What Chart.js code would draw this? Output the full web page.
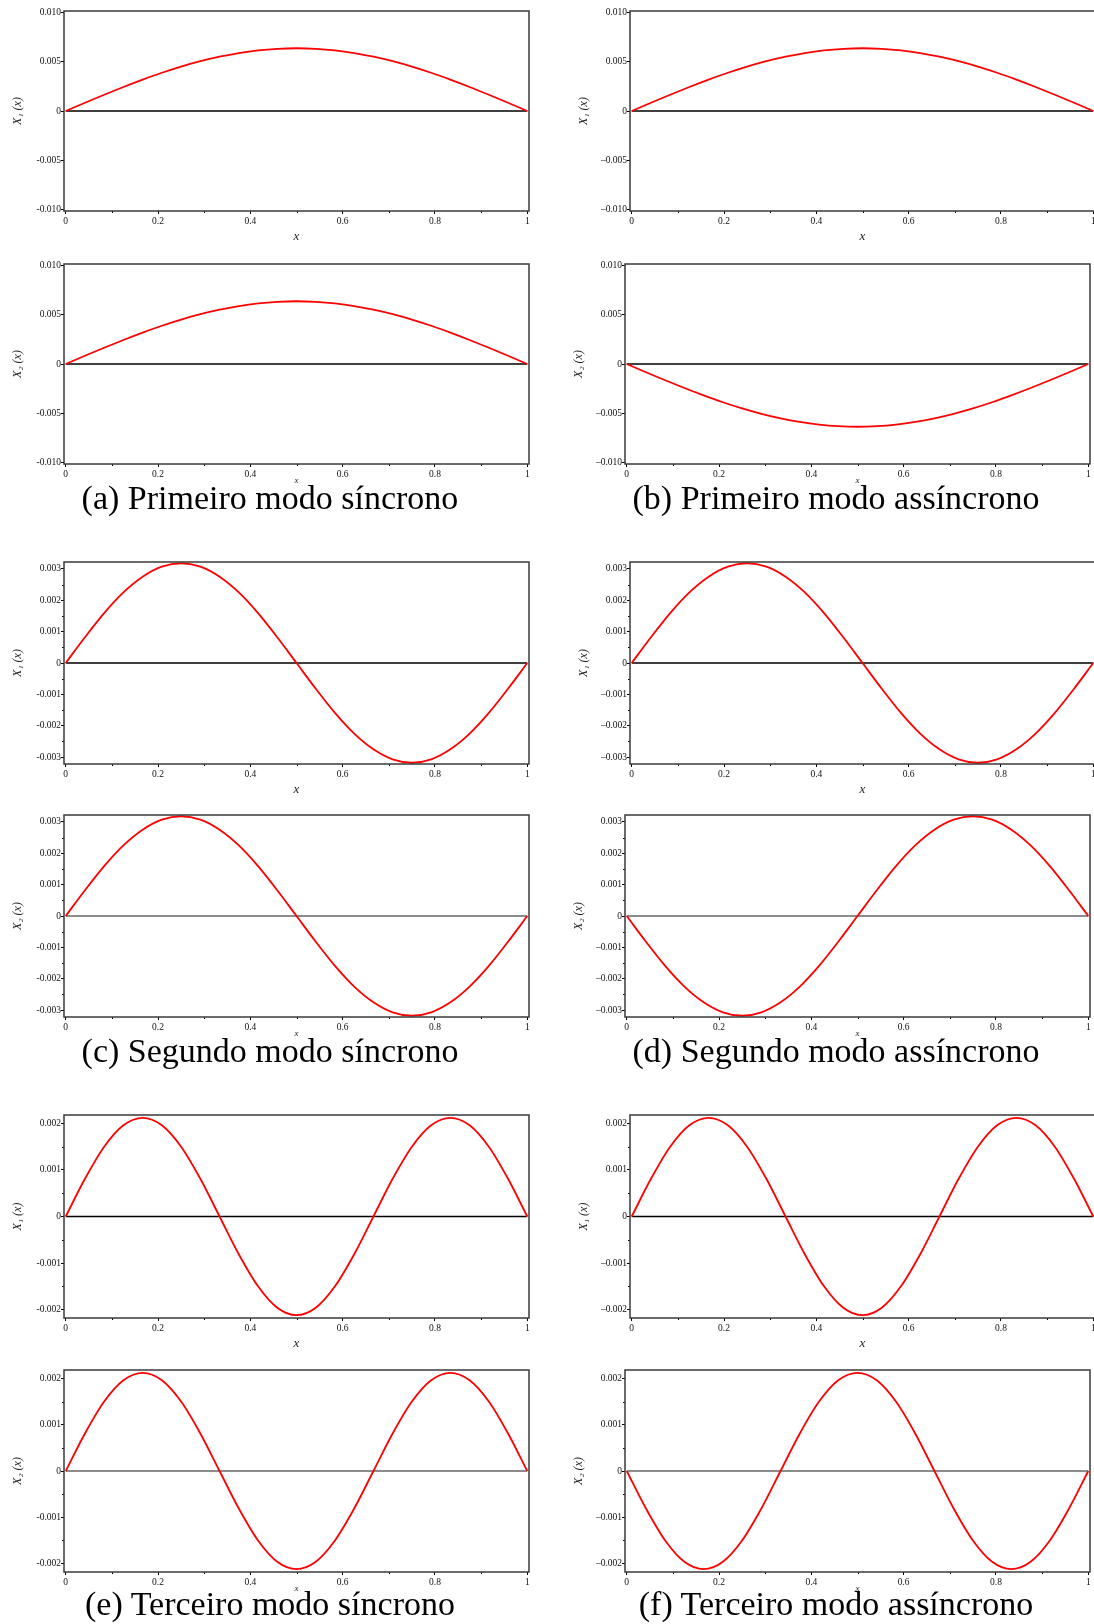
<!DOCTYPE html>
<html>
<head>
<meta charset="utf-8">
<script src="https://cdn.jsdelivr.net/npm/chart.js@4.4.1/dist/chart.umd.min.js"></script>
<style>
  html, body { margin: 0; padding: 0; background: #fff; overflow: hidden; }
  body { width: 1094px; height: 1624px; position: relative; }
  canvas { position: absolute; }
  .cap {
    position: absolute; width: 520px; text-align: center; white-space: nowrap;
    font-family: 'Liberation Serif', serif; font-size: 34px; line-height: 34px; color: #000;
  }
</style>
</head>
<body>
<script>
// posições x (passo 1/24)
const xs = [0, 0.0417, 0.0833, 0.125, 0.1667, 0.2083, 0.25, 0.2917, 0.3333, 0.375, 0.4167, 0.4583, 0.5,
            0.5417, 0.5833, 0.625, 0.6667, 0.7083, 0.75, 0.7917, 0.8333, 0.875, 0.9167, 0.9583, 1];

// primeiro modo
const mode1 = [0, 0.00084, 0.00166, 0.00245, 0.00320, 0.00390, 0.00453, 0.00508, 0.00554, 0.00591, 0.00618, 0.00634, 0.00640,
               0.00634, 0.00618, 0.00591, 0.00554, 0.00508, 0.00453, 0.00390, 0.00320, 0.00245, 0.00166, 0.00084, 0];
const mode1Neg = [0, -0.00084, -0.00166, -0.00245, -0.00320, -0.00390, -0.00453, -0.00508, -0.00554, -0.00591, -0.00618, -0.00634, -0.00640,
                  -0.00634, -0.00618, -0.00591, -0.00554, -0.00508, -0.00453, -0.00390, -0.00320, -0.00245, -0.00166, -0.00084, 0];

// segundo modo
const mode2 = [0, 0.00082, 0.00159, 0.00225, 0.00275, 0.00307, 0.00318, 0.00307, 0.00275, 0.00225, 0.00159, 0.00082, 0,
               -0.00082, -0.00159, -0.00225, -0.00275, -0.00307, -0.00318, -0.00307, -0.00275, -0.00225, -0.00159, -0.00082, 0];
const mode2Neg = [0, -0.00082, -0.00159, -0.00225, -0.00275, -0.00307, -0.00318, -0.00307, -0.00275, -0.00225, -0.00159, -0.00082, 0,
                  0.00082, 0.00159, 0.00225, 0.00275, 0.00307, 0.00318, 0.00307, 0.00275, 0.00225, 0.00159, 0.00082, 0];

// terceiro modo
const mode3 = [0, 0.00081, 0.00150, 0.00196, 0.00212, 0.00196, 0.00150, 0.00081, 0,
               -0.00081, -0.00150, -0.00196, -0.00212, -0.00196, -0.00150, -0.00081, 0,
               0.00081, 0.00150, 0.00196, 0.00212, 0.00196, 0.00150, 0.00081, 0];
const mode3Neg = [0, -0.00081, -0.00150, -0.00196, -0.00212, -0.00196, -0.00150, -0.00081, 0,
                  0.00081, 0.00150, 0.00196, 0.00212, 0.00196, 0.00150, 0.00081, 0,
                  -0.00081, -0.00150, -0.00196, -0.00212, -0.00196, -0.00150, -0.00081, 0];

const zeroLine = [{ x: 0, y: 0 }, { x: 1, y: 0 }];

// ticks
const xTickValues = [0, 0.2, 0.4, 0.6, 0.8, 1];
const xTickLabels = ['0', '0.2', '0.4', '0.6', '0.8', '1'];
const xMinorTicks = [0.1, 0.3, 0.5, 0.7, 0.9];

const yTicks1 = [-0.01, -0.005, 0, 0.005, 0.01];
const yLabels1 = ['-0.010', '-0.005', '0', '0.005', '0.010'];
const yTicks2 = [-0.003, -0.002, -0.001, 0, 0.001, 0.002, 0.003];
const yLabels2 = ['-0.003', '-0.002', '-0.001', '0', '0.001', '0.002', '0.003'];
const yMinor2 = [-0.0025, -0.0015, -0.0005, 0.0005, 0.0015, 0.0025];
const yTicks3 = [-0.002, -0.001, 0, 0.001, 0.002];
const yLabels3 = ['-0.002', '-0.001', '0', '0.001', '0.002'];
const yMinor3 = [-0.0015, -0.0005, 0.0005, 0.0015];

const captions = [
  '(a) Primeiro modo síncrono', '(b) Primeiro modo assíncrono',
  '(c) Segundo modo síncrono', '(d) Segundo modo assíncrono',
  '(e) Terceiro modo síncrono', '(f) Terceiro modo assíncrono'
];

// layout
const Y_AXIS_W = 64, X_AXIS_H = 36, PAD_T = 8, PAD_R = 8;
const rows = [
  { ticks: yTicks1, labels: yLabels1, minor: [], yMax: 0.0102, tops: [[11, 211], [264, 464]], capY: 509 },
  { ticks: yTicks2, labels: yLabels2, minor: yMinor2, yMax: 0.00322, tops: [[562, 764], [815, 1017]], capY: 1062 },
  { ticks: yTicks3, labels: yLabels3, minor: yMinor3, yMax: 0.00218, tops: [[1115, 1318], [1370, 1572]], capY: 1615 }
];
const seriesByRow = [[mode1, mode1, mode1, mode1Neg], [mode2, mode2, mode2, mode2Neg], [mode3, mode3, mode3, mode3Neg]];
const colX = [[64, 529], [64, 529], [630, 1095], [625, 1090]]; // topo-esq, baixo-esq, topo-dir, baixo-dir
const capCenter = [270, 836];

const frame = {
  id: 'frame',
  afterDatasetsDraw(chart, args, opts) {
    const { ctx, chartArea: a, scales: { x, y } } = chart;
    ctx.save();
    ctx.strokeStyle = '#000';
    ctx.lineWidth = 1;
    ctx.beginPath();
    xMinorTicks.forEach(v => {
      const px = Math.round(x.getPixelForValue(v)) + 0.5;
      ctx.moveTo(px, a.bottom); ctx.lineTo(px, a.bottom + 2);
    });
    opts.yMinor.forEach(v => {
      const py = Math.round(y.getPixelForValue(v)) + 0.5;
      ctx.moveTo(a.left, py); ctx.lineTo(a.left - 2, py);
    });
    ctx.stroke();
    ctx.strokeStyle = '#3a3a3a';
    ctx.lineWidth = 1.5;
    ctx.strokeRect(a.left, a.top, a.right - a.left, a.bottom - a.top);
    ctx.restore();
  }
};

function makePanel(row, k) {
  const isBottom = k === 1 || k === 3;
  const isRight = k >= 2;
  const [L, R] = colX[k];
  const [T, B] = row.tops[isBottom ? 1 : 0];
  const w = Y_AXIS_W + (R - L) + PAD_R;
  const h = PAD_T + (B - T) + X_AXIS_H;
  const c = document.createElement('canvas');
  c.width = w; c.height = h;
  c.style.left = (L - Y_AXIS_W) + 'px';
  c.style.top = (T - PAD_T) + 'px';
  c.style.width = w + 'px'; c.style.height = h + 'px';
  document.body.appendChild(c);

  const series = row.series[k];
  const labels = isRight ? row.labels.map(s => s.replace('-', '–')) : row.labels;
  const xTitleSize = isBottom ? 9 : 13;
  const xTitleGap = isBottom ? 17 : 26;
  const zeroColor = isBottom && row !== rows[0] ? '#666' : '#000';

  new Chart(c, {
    type: 'line',
    data: {
      datasets: [
        { data: xs.map((x, i) => ({ x, y: series[i] })), borderColor: '#ff0000', borderWidth: 1.8,
          pointRadius: 0, cubicInterpolationMode: 'monotone', fill: false },
        { data: zeroLine, borderColor: zeroColor, borderWidth: 1.5, pointRadius: 0, fill: false }
      ]
    },
    options: {
      responsive: false, animation: false, devicePixelRatio: 1,
      layout: { padding: { top: PAD_T, right: PAD_R, left: 0, bottom: 0 } },
      plugins: { legend: { display: false }, tooltip: { enabled: false }, frame: { yMinor: row.minor } },
      scales: {
        x: {
          type: 'linear', min: -0.0037, max: 1.0037,
          afterBuildTicks: s => { s.ticks = xTickValues.map(v => ({ value: v })); },
          afterFit: s => { s.height = X_AXIS_H; s.paddingLeft = 0; s.paddingRight = 0; },
          grid: { drawOnChartArea: false, drawTicks: true, tickLength: 3, tickColor: '#000', tickWidth: 1 },
          border: { display: false },
          ticks: { padding: 2, maxRotation: 0, autoSkip: false, color: '#111',
                   font: { family: 'Liberation Serif', size: 9.5 }, callback: (v, i) => xTickLabels[i] },
          title: { display: true, text: 'x', color: '#222',
                   font: { family: 'Liberation Serif', size: xTitleSize, style: 'italic' },
                   padding: { top: 0, bottom: X_AXIS_H - xTitleGap - xTitleSize * 0.6 } }
        },
        y: {
          type: 'linear', min: -row.yMax, max: row.yMax,
          afterBuildTicks: s => { s.ticks = row.ticks.map(v => ({ value: v })); },
          afterFit: s => { s.width = Y_AXIS_W; s.paddingTop = 0; s.paddingBottom = 0; },
          grid: { drawOnChartArea: false, drawTicks: true, tickLength: 3, tickColor: '#000', tickWidth: 1 },
          border: { display: false },
          ticks: { padding: 0, autoSkip: false, color: '#111',
                   font: { family: 'Liberation Serif', size: 9.5 }, callback: (v, i) => labels[i] },
          title: { display: true, text: isBottom ? 'X₂ (x)' : 'X₁ (x)', color: '#222',
                   font: { family: 'Liberation Serif', size: 12, style: 'italic' },
                   padding: { top: 10.3, bottom: 0 } }
        }
      }
    },
    plugins: [frame]
  });
}

rows.forEach((row, r) => {
  row.series = seriesByRow[r];
  [0, 1, 2, 3].forEach(k => makePanel(row, k));
  [0, 1].forEach(col => {
    const d = document.createElement('div');
    d.className = 'cap';
    d.textContent = captions[r * 2 + col];
    d.style.left = (capCenter[col] - 260) + 'px';
    d.style.top = (row.capY - 28.5) + 'px';
    document.body.appendChild(d);
  });
});
</script>
</body>
</html>
